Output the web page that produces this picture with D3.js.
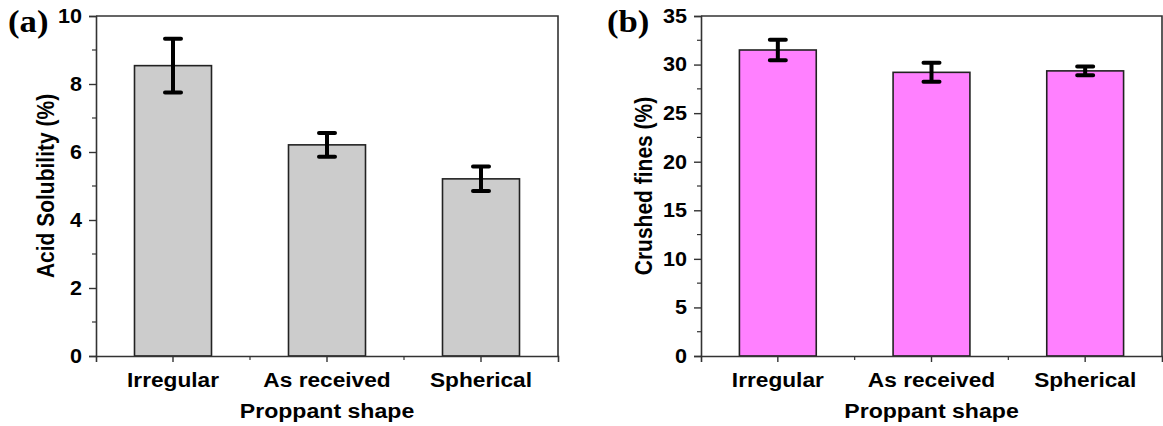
<!DOCTYPE html>
<html>
<head>
<meta charset="utf-8">
<script src="https://cdn.jsdelivr.net/npm/d3@7"></script>
<style>
  html, body { margin: 0; padding: 0; background: #fff; }
  svg { display: block; }
  text { font-family: Arial, "Liberation Sans", sans-serif; font-weight: bold; fill: #000; }
</style>
</head>
<body>
<svg id="chart" width="1163" height="426"></svg>
<script>
// Proppant shape categories shared by both panels
const shapes = ["Irregular", "As received", "Spherical"];

// Panel (a): acid solubility (%) with standard deviation
const acidSolubility = [8.54, 6.21, 5.21];
const acidSolubilityErr = [0.79, 0.35, 0.36];
const acidTicks = [0, 2, 4, 6, 8, 10];

// Panel (b): crushed fines (%) with standard deviation
const crushedFines = [31.5, 29.2, 29.35];
const crushedFinesErr = [1.05, 0.98, 0.45];
const finesTicks = [0, 5, 10, 15, 20, 25, 30, 35];

const svg = d3.select("#chart");
const SX = 1.08; // slightly widened lettering

function drawPanel(opt) {
  const { left, top, width, height, values, errors, yMax, ticks, minorStep,
          fill, yTitle, tag, tagX, titleX } = opt;
  const g = svg.append("g");

  const x = d3.scaleBand().domain(shapes).range([left, left + width]).paddingInner(0.5).paddingOuter(0.25);
  const y = d3.scaleLinear().domain([0, yMax]).range([top + height, top]);

  // Frame: top and right edges
  g.append("path")
    .attr("d", `M${left},${top}H${left + width}V${top + height}`)
    .attr("fill", "none").attr("stroke", "#333").attr("stroke-width", 1.6);

  // Bars
  g.selectAll("rect.bar").data(values).join("rect")
    .attr("class", "bar")
    .attr("x", (d, i) => x(shapes[i]))
    .attr("y", d => y(d))
    .attr("width", x.bandwidth())
    .attr("height", d => y(0) - y(d))
    .attr("fill", fill)
    .attr("stroke", "#222").attr("stroke-width", 1.6);

  // Error bars
  const cap = 8;
  const eb = g.selectAll("g.err").data(values).join("g").attr("class", "err")
    .attr("stroke", "#000").attr("stroke-width", 4).attr("stroke-linecap", "round").attr("fill", "none");
  eb.append("path").attr("d", (d, i) => {
    const cx = x(shapes[i]) + x.bandwidth() / 2;
    const hi = y(d + errors[i]), lo = y(d - errors[i]);
    return `M${cx},${hi}V${lo}M${cx - cap},${hi}H${cx + cap}M${cx - cap},${lo}H${cx + cap}`;
  });

  // Y axis with major and minor ticks
  const yAxis = d3.axisLeft(y).tickValues(ticks).tickSize(7).tickPadding(7).tickFormat(d3.format("d"));
  const ya = g.append("g").attr("transform", `translate(${left},0)`).call(yAxis);
  const minors = d3.range(minorStep, yMax, minorStep * 2);
  ya.selectAll("line.minor").data(minors).join("line").attr("class", "minor")
    .attr("x1", -4).attr("x2", 0).attr("y1", d => y(d)).attr("y2", d => y(d));

  // X axis: category ticks and ticks between categories
  const xAxis = d3.axisBottom(x).tickSize(6).tickPadding(10);
  const xa = g.append("g").attr("transform", `translate(0,${top + height})`).call(xAxis);
  const step = x.step();
  const between = [1, 2].map(k => left + k * step);
  xa.selectAll("line.minor").data(between).join("line").attr("class", "minor")
    .attr("x1", d => d).attr("x2", d => d).attr("y1", 0).attr("y2", 4);

  [ya, xa].forEach(a => {
    a.select(".domain").attr("stroke", "#333").attr("stroke-width", 1.6);
    a.selectAll("line").attr("stroke", "#333").attr("stroke-width", 1.4);
    a.selectAll(".tick text").style("font-family", "Arial, 'Liberation Sans', sans-serif")
      .style("font-weight", "bold").attr("fill", "#000");
  });
  ya.selectAll("line.minor").attr("stroke-width", 1.2);
  xa.selectAll("line.minor").attr("stroke-width", 1.2);

  ya.selectAll(".tick text").style("font-size", "20px")
    .attr("x", 0).attr("transform", `translate(-14,0) scale(${SX},1)`);
  xa.selectAll(".tick text").style("font-size", "21px")
    .attr("transform", `scale(${SX},1)`);

  // Axis titles
  g.append("text")
    .attr("transform", `translate(${titleX},${top + height / 2}) scale(1.1,1) rotate(-90)`)
    .attr("text-anchor", "middle")
    .style("font-size", "21px").text(yTitle);
  g.append("text")
    .attr("transform", `translate(${left + width / 2},418) scale(1.1,1)`)
    .attr("text-anchor", "middle").style("font-size", "21px").text("Proppant shape");

  // Panel tag
  g.append("text")
    .attr("transform", `translate(${tagX},32) scale(1.12,1)`)
    .style("font-family", "'Liberation Serif', 'Times New Roman', serif")
    .style("font-size", "31px").text(tag);
}

drawPanel({
  left: 96, top: 16, width: 462, height: 340,
  values: acidSolubility, errors: acidSolubilityErr, yMax: 10, ticks: acidTicks, minorStep: 1,
  fill: "#cccccc", yTitle: "Acid Solubility (%)", tag: "(a)", tagX: 8, titleX: 54
});

drawPanel({
  left: 701, top: 16, width: 461, height: 340,
  values: crushedFines, errors: crushedFinesErr, yMax: 35, ticks: finesTicks, minorStep: 2.5,
  fill: "#ff80ff", yTitle: "Crushed fines (%)", tag: "(b)", tagX: 607, titleX: 652
});
</script>
</body>
</html>
